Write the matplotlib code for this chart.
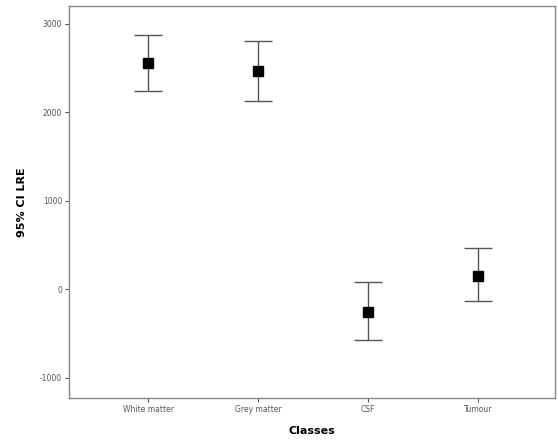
import matplotlib
matplotlib.use("Agg")
import matplotlib.pyplot as plt
import numpy as np

plt.rcParams["axes.unicode_minus"] = False

classes = ["White matter", "Grey matter", "CSF", "Tumour"]
means = [2560, 2470, -250, 150]
ci_upper = [2875, 2810, 80, 465]
ci_lower = [2245, 2130, -575, -135]
y_ticks = [-1000, 0, 1000, 2000, 3000]

fig = plt.figure(figsize=(5.58, 4.43), dpi=100)
ax = fig.add_axes([0.1237, 0.1016, 0.8709, 0.8849])

x = np.arange(1, len(classes) + 1)
m = np.array(means)
err = np.vstack([m - np.array(ci_lower), np.array(ci_upper) - m])
ax.errorbar(x, m, yerr=err, fmt="s", color="black", markersize=7.5,
            ecolor="#555555", elinewidth=1.0, capsize=10, capthick=1.0)

ax.set_xlim(0.28, 4.7)
ax.set_ylim(-1226, 3203)
ax.set_xticks(x)
ax.set_xticklabels(classes)
ax.set_yticks(y_ticks)
ax.tick_params(labelsize=5.5, colors="#555555", length=3, width=0.8, pad=2)
for s in ax.spines.values():
    s.set_color("#888888")
    s.set_linewidth(1.0)
ax.set_xlabel("Classes", fontsize=8, fontweight="bold", labelpad=9)
ax.set_ylabel("95% CI LRE", fontsize=8, fontweight="bold", labelpad=9)

fig.savefig("out.png", dpi=100)
